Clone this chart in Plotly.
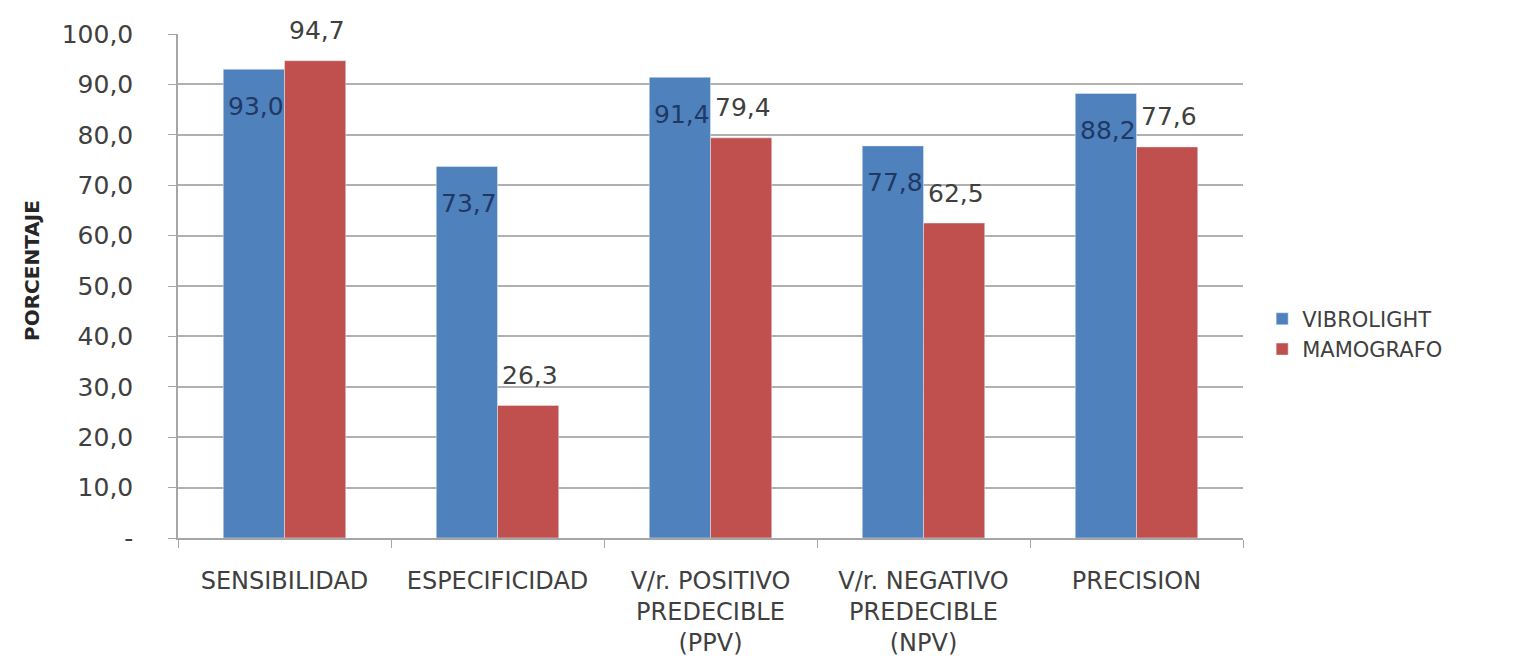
import plotly.graph_objects as go

categories = ["SENSIBILIDAD", "ESPECIFICIDAD", "V/r. POSITIVO<br>PREDECIBLE<br>(PPV)",
              "V/r. NEGATIVO<br>PREDECIBLE<br>(NPV)", "PRECISION"]
vibrolight = [93.0, 73.7, 91.4, 77.8, 88.2]
mamografo = [94.7, 26.3, 79.4, 62.5, 77.6]
tick_vals = [0, 10, 20, 30, 40, 50, 60, 70, 80, 90, 100]
tick_text = ["-", "10,0", "20,0", "30,0", "40,0", "50,0", "60,0", "70,0", "80,0", "90,0", "100,0"]

BLUE = "#4F81BD"
RED = "#C0504D"
FONT = "DejaVu Sans, sans-serif"

def fmt(v):
    return f"{v:.1f}".replace(".", ",")

fig = go.Figure()
fig.add_trace(go.Bar(x=categories, y=vibrolight, name="VIBROLIGHT", marker_color=BLUE))
fig.add_trace(go.Bar(x=categories, y=mamografo, name="MAMOGRAFO", marker_color=RED))

annotations = []
for c, v in zip(categories, vibrolight):
    annotations.append(dict(x=c, y=v, xref="x", yref="y", text=fmt(v), showarrow=False,
                            xshift=-29, yshift=-37, font=dict(family=FONT, size=25, color="#1F3864")))
for c, v in zip(categories, mamografo):
    annotations.append(dict(x=c, y=v, xref="x", yref="y", text=fmt(v), showarrow=False,
                            xshift=32, yshift=30, font=dict(family=FONT, size=25, color="#404040")))
annotations.append(dict(x=-0.137, y=0.53, xref="paper", yref="paper", text="<b>PORCENTAJE</b>",
                        textangle=-90, showarrow=False, xanchor="center", yanchor="middle",
                        font=dict(family=FONT, size=20, color="#262626")))

fig.update_layout(
    width=1522, height=668,
    margin=dict(l=170, r=287, t=18, b=138),
    paper_bgcolor="white", plot_bgcolor="white",
    barmode="group", bargap=0.425, bargroupgap=0,
    font=dict(family=FONT, size=22, color="#404040"),
    annotations=annotations,
    legend=dict(x=1.018, y=0.475, xanchor="left", yanchor="top",
                font=dict(family=FONT, size=21, color="#404040"),
                itemwidth=30, tracegroupgap=0),
    showlegend=True,
)
fig.update_xaxes(
    showline=True, linecolor="#A6A6A6", linewidth=1.5,
    ticks="outside", tickson="boundaries", ticklen=8, tickcolor="#A6A6A6",
    ticklabelstandoff=20,
    tickfont=dict(family=FONT, size=24, color="#404040"),
    showgrid=False,
)
fig.update_yaxes(
    range=[0, 100], tickvals=tick_vals, ticktext=tick_text,
    showline=True, linecolor="#A6A6A6", linewidth=1.5,
    ticks="outside", ticklen=8, tickcolor="#A6A6A6",
    ticklabelstandoff=30,
    showgrid=True, gridcolor="#B0B0B0", gridwidth=1.5,
    tickfont=dict(family=FONT, size=25, color="#404040"),
    zeroline=False,
)

fig.write_html("out.html")
